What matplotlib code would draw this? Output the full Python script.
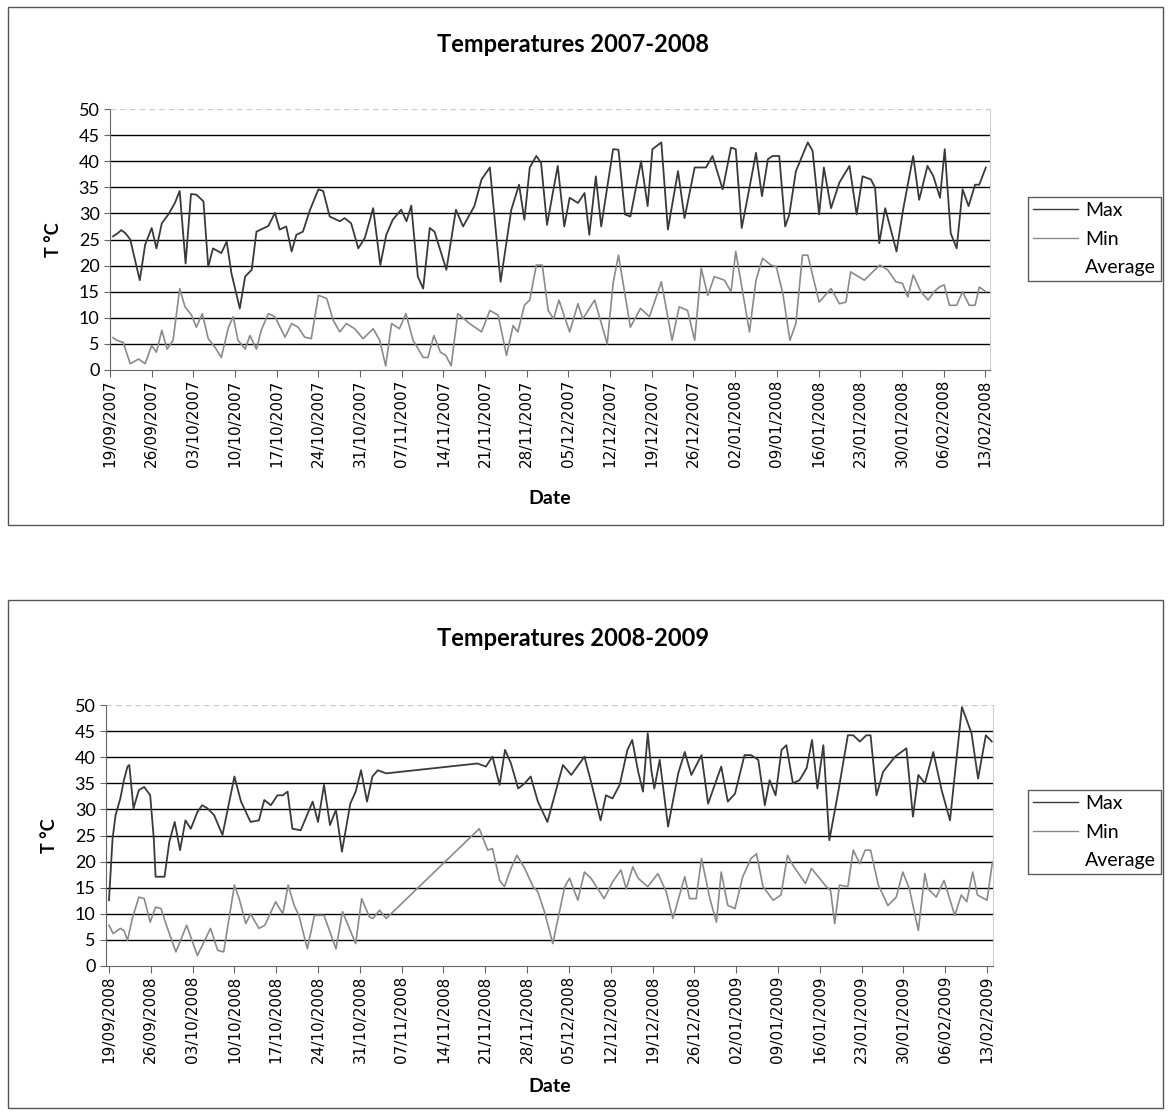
import matplotlib
matplotlib.use("Agg")
import matplotlib.pyplot as plt
from matplotlib.lines import Line2D
from matplotlib.patches import Rectangle

plt.rcParams['font.family'] = ['Lato', 'DejaVu Sans']

# ---- data (day offset from 19/09, value in deg C) ----
tick_labels_1 = ["19/09/2007", "26/09/2007", "03/10/2007", "10/10/2007", "17/10/2007",
                 "24/10/2007", "31/10/2007", "07/11/2007", "14/11/2007", "21/11/2007",
                 "28/11/2007", "05/12/2007", "12/12/2007", "19/12/2007", "26/12/2007",
                 "02/01/2008", "09/01/2008", "16/01/2008", "23/01/2008", "30/01/2008",
                 "06/02/2008", "13/02/2008"]
tick_labels_2 = ["19/09/2008", "26/09/2008", "03/10/2008", "10/10/2008", "17/10/2008",
                 "24/10/2008", "31/10/2008", "07/11/2008", "14/11/2008", "21/11/2008",
                 "28/11/2008", "05/12/2008", "12/12/2008", "19/12/2008", "26/12/2008",
                 "02/01/2009", "09/01/2009", "16/01/2009", "23/01/2009", "30/01/2009",
                 "06/02/2009", "13/02/2009"]

max1_days = [0.5, 1.3, 1.9, 2.6, 3.4, 5.0, 5.9, 7.0, 7.8, 8.7, 9.8, 10.9, 11.7, 12.7, 13.6,
             14.5, 15.7, 16.5, 17.3, 18.7, 19.6, 20.4, 21.8, 22.7, 23.8, 24.6, 26.6, 27.7,
             28.5, 29.6, 30.5, 31.3, 32.4, 33.6, 35.0, 35.8, 36.9, 38.6, 39.4, 40.5, 41.7,
             42.8, 44.2, 45.4, 46.4, 47.5, 48.9, 49.8, 50.6, 51.7, 52.6, 53.7, 54.5, 56.5,
             58.1, 59.3, 61.2, 62.4, 63.8, 65.6, 67.4, 68.7, 69.6, 70.5, 71.6, 72.4, 73.4,
             75.2, 76.3, 77.2, 78.6, 79.7, 80.5, 81.6, 82.5, 84.5, 85.4, 86.5, 87.4, 89.2,
             90.3, 91.1, 92.6, 93.7, 95.4, 96.5, 98.2, 100.1, 101.2, 102.9, 104.3, 105.1,
             106.1, 107.4, 108.5, 109.5, 110.5, 111.3, 112.4, 113.4, 114.1, 115.2, 117.2,
             118.0, 119.1, 119.9, 121.1, 122.5, 124.2, 125.4, 126.4, 127.8, 128.5, 129.2,
             130.2, 132.1, 133.2, 134.9, 135.9, 137.3, 138.3, 139.4, 140.2, 141.2, 142.2,
             143.2, 144.2, 145.3, 146.0, 147.1]
max1_vals = [25.6, 26.2, 26.8, 26.2, 25.0, 17.2, 24.0, 27.2, 23.3, 28.1, 29.8, 32.0, 34.3,
             20.4, 33.7, 33.6, 32.3, 19.8, 23.3, 22.4, 24.6, 18.5, 11.8, 17.9, 19.2, 26.5,
             27.6, 30.1, 26.9, 27.5, 22.7, 25.9, 26.5, 30.7, 34.6, 34.3, 29.4, 28.5, 29.1,
             28.1, 23.3, 25.3, 31.0, 20.1, 25.9, 28.8, 30.7, 28.5, 31.5, 17.9, 15.6, 27.2,
             26.5, 19.2, 30.7, 27.5, 31.4, 36.5, 38.8, 16.9, 30.7, 35.5, 28.8, 38.8, 41.0,
             39.7, 27.8, 39.1, 27.5, 33.0, 32.0, 33.9, 25.9, 37.1, 27.5, 42.3, 42.2, 29.8,
             29.4, 40.0, 31.4, 42.3, 43.6, 26.9, 38.1, 29.1, 38.8, 38.8, 41.0, 34.6, 42.6,
             42.3, 27.2, 34.9, 41.6, 33.3, 40.4, 41.0, 41.0, 27.5, 29.8, 38.1, 43.6, 42.0,
             29.8, 38.8, 31.0, 35.9, 39.1, 29.8, 37.1, 36.5, 34.9, 24.3, 31.0, 22.7, 30.7,
             41.0, 32.6, 39.1, 37.1, 33.0, 42.3, 26.2, 23.3, 34.6, 31.4, 35.5, 35.5, 38.8]

min1_days = [0.5, 1.1, 2.2, 3.4, 4.8, 5.9, 7.0, 7.8, 8.7, 9.6, 10.6, 11.7, 12.6, 13.7, 14.5,
             15.5, 16.5, 17.6, 18.7, 19.9, 20.7, 21.5, 22.7, 23.5, 24.6, 25.4, 26.6, 27.7,
             29.4, 30.5, 31.6, 32.7, 33.8, 35.0, 36.4, 37.5, 38.6, 39.7, 41.1, 42.5, 44.2,
             45.3, 46.3, 47.3, 48.6, 49.7, 50.9, 52.6, 53.4, 54.4, 55.5, 56.4, 57.3, 58.4,
             60.4, 62.4, 63.8, 65.2, 66.6, 67.7, 68.5, 69.6, 70.5, 71.6, 72.6, 73.6, 74.5,
             75.4, 77.2, 78.6, 79.4, 81.4, 83.5, 84.5, 85.4, 87.4, 89.1, 90.6, 92.6, 94.4,
             95.6, 97.0, 98.2, 99.3, 100.4, 101.5, 103.2, 104.3, 105.1, 107.4, 108.5, 109.6,
             111.0, 111.9, 113.0, 114.2, 115.2, 116.3, 117.2, 119.1, 121.1, 122.5, 123.6,
             124.4, 126.7, 128.1, 129.3, 130.6, 132.0, 133.1, 134.0, 134.9, 136.2, 137.4,
             138.4, 139.3, 140.1, 141.0, 142.2, 143.2, 144.3, 145.3, 146.0, 147.1]
min1_vals = [6.2, 5.7, 5.3, 1.2, 2.1, 1.2, 4.7, 3.4, 7.6, 4.0, 5.7, 15.6, 12.1, 10.5, 8.2,
             10.8, 6.0, 4.4, 2.4, 8.2, 10.2, 5.7, 4.0, 6.6, 4.0, 7.6, 10.8, 10.2, 6.3, 8.9,
             8.2, 6.3, 6.0, 14.3, 13.7, 9.5, 7.3, 8.9, 7.9, 6.0, 7.9, 5.7, 0.8, 8.9, 7.9,
             10.8, 5.7, 2.4, 2.4, 6.6, 3.4, 2.8, 0.8, 10.8, 8.9, 7.3, 11.4, 10.5, 2.8, 8.5,
             7.3, 12.4, 13.4, 20.1, 20.1, 11.4, 9.8, 13.4, 7.3, 12.7, 9.8, 13.4, 5.0, 16.6,
             22.0, 8.2, 11.8, 10.2, 16.9, 5.7, 12.1, 11.4, 5.7, 19.5, 14.3, 17.9, 17.2, 15.0,
             22.7, 7.3, 17.2, 21.4, 20.1, 19.8, 14.7, 5.7, 8.9, 22.0, 22.0, 13.0, 15.6, 12.7,
             13.0, 18.8, 17.2, 18.8, 20.1, 19.2, 16.9, 16.6, 14.0, 18.2, 15.0, 13.4, 15.0,
             15.9, 16.3, 12.4, 12.4, 15.0, 12.4, 12.4, 15.9, 15.0]

max2_days = [0.0, 0.6, 1.1, 1.9, 2.5, 3.1, 3.4, 4.1, 5.0, 5.9, 6.9, 7.5, 7.8, 9.3, 10.1,
             11.0, 11.9, 12.8, 13.7, 14.8, 15.6, 16.5, 17.6, 19.0, 21.0, 22.1, 23.7, 25.1,
             26.0, 27.1, 28.2, 29.1, 29.9, 30.7, 32.1, 34.1, 35.0, 36.0, 37.0, 38.0, 39.0,
             40.4, 41.3, 42.2, 43.2, 44.1, 45.0, 46.4, 61.7, 63.1, 64.2, 65.4, 66.3, 67.3,
             68.5, 69.6, 70.6, 71.8, 73.4, 76.0, 77.4, 79.6, 80.7, 82.3, 83.2, 84.3, 85.5,
             86.8, 87.6, 88.6, 89.4, 90.2, 90.8, 91.3, 92.2, 93.6, 95.3, 96.4, 97.5, 99.2,
             100.3, 102.5, 103.6, 104.8, 106.4, 107.5, 108.7, 109.8, 110.6, 111.6, 112.6,
             113.4, 114.5, 115.6, 116.8, 117.7, 118.6, 119.6, 120.6, 122.1, 123.7, 124.6,
             125.7, 126.8, 127.5, 128.5, 129.6, 131.6, 133.5, 134.6, 135.5, 136.6, 138.0,
             139.4, 140.8, 142.8, 144.4, 145.5, 146.8, 147.8]
max2_vals = [12.6, 24.4, 28.9, 32.1, 35.6, 38.2, 38.5, 30.2, 33.7, 34.3, 32.7, 24.4, 17.1,
             17.1, 23.8, 27.6, 22.2, 27.9, 26.3, 29.5, 30.8, 30.2, 28.9, 25.1, 36.3, 31.5,
             27.6, 27.9, 31.8, 30.8, 32.7, 32.7, 33.4, 26.3, 26.0, 31.5, 27.6, 34.7, 27.0,
             29.9, 21.9, 31.1, 33.4, 37.5, 31.5, 36.3, 37.5, 36.9, 38.8, 38.2, 40.1, 34.7,
             41.4, 38.8, 34.0, 35.0, 36.3, 31.5, 27.6, 38.5, 36.6, 40.1, 35.3, 27.9, 32.7,
             32.1, 34.7, 41.4, 43.3, 37.2, 33.4, 44.6, 37.5, 34.0, 39.5, 26.7, 36.9, 41.0,
             36.6, 40.4, 31.1, 38.2, 31.5, 33.0, 40.4, 40.4, 39.5, 30.8, 35.6, 32.7, 41.4,
             42.3, 35.0, 35.6, 37.9, 43.3, 34.0, 42.3, 24.1, 33.4, 44.2, 44.2, 43.0, 44.2,
             44.2, 32.7, 37.2, 40.1, 41.7, 28.6, 36.6, 35.0, 41.0, 33.7, 27.9, 49.6, 44.6,
             35.9, 44.2, 43.0]

min2_days = [0.0, 0.7, 1.9, 2.5, 3.1, 3.9, 5.0, 5.9, 6.9, 7.8, 8.7, 9.8, 11.2, 13.0, 14.8,
             17.0, 18.2, 19.2, 21.0, 21.8, 22.9, 23.7, 25.1, 26.1, 27.9, 29.1, 30.0, 31.0,
             31.8, 33.2, 34.4, 36.0, 38.0, 39.1, 41.3, 42.3, 43.6, 44.2, 45.3, 46.4, 62.0,
             63.4, 64.2, 65.4, 66.2, 67.3, 68.3, 69.6, 71.0, 71.8, 72.9, 74.3, 76.3, 77.1,
             78.5, 79.6, 80.7, 82.9, 84.3, 85.7, 86.6, 87.7, 88.6, 90.2, 91.9, 93.3, 94.4,
             96.4, 97.2, 98.3, 99.2, 100.6, 101.7, 102.5, 103.6, 104.8, 106.1, 107.5, 108.4,
             109.5, 111.2, 112.5, 113.6, 114.5, 116.6, 117.6, 120.1, 120.8, 121.5, 122.3,
             123.7, 124.6, 125.7, 126.6, 127.5, 128.8, 130.4, 131.8, 132.9, 134.0, 135.5,
             136.6, 137.1, 138.5, 139.8, 141.6, 142.7, 143.6, 144.6, 145.4, 147.0, 147.9]
min2_vals = [7.8, 6.2, 7.2, 6.8, 4.9, 9.1, 13.2, 12.9, 8.4, 11.3, 11.0, 7.2, 2.7, 7.8, 2.0,
             7.2, 3.0, 2.7, 15.5, 12.9, 8.1, 10.0, 7.2, 7.8, 12.3, 10.0, 15.5, 11.6, 9.7,
             3.3, 9.7, 9.7, 3.3, 10.4, 4.3, 12.9, 9.4, 9.1, 10.7, 9.1, 26.3, 22.2, 22.5,
             16.4, 15.2, 18.7, 21.2, 18.7, 15.2, 14.2, 10.4, 4.3, 15.2, 16.8, 12.6, 18.0,
             16.8, 12.9, 16.1, 18.4, 14.8, 19.0, 16.8, 15.2, 17.7, 14.2, 9.1, 17.1, 12.9,
             12.9, 20.6, 12.9, 8.4, 18.0, 11.6, 11.0, 17.1, 20.6, 21.5, 15.2, 12.6, 13.6,
             21.2, 19.3, 15.8, 18.7, 15.2, 14.5, 8.1, 15.5, 15.2, 22.2, 19.6, 22.2, 22.2,
             15.5, 11.6, 13.2, 18.0, 14.8, 6.8, 17.7, 14.8, 13.2, 16.4, 9.7, 13.6, 12.3,
             18.0, 13.6, 12.6, 19.9]

W, H = 1170, 1113
fig = plt.figure(figsize=(W / 100, H / 100), dpi=100)

MAX_C = '#3a3a3a'
MIN_C = '#8a8a8a'


def box(x0, y0, x1, y1):
    return [x0 / W, 1 - y1 / H, (x1 - x0) / W, (y1 - y0) / H]


def draw_chart(frame, axrect, title, title_y, tlabels, mx_d, mx_v, mn_d, mn_v,
               xlim, legrect, datey):
    fx0, fy0, fx1, fy1 = frame
    fig.patches.append(Rectangle((fx0 / W, 1 - fy1 / H), (fx1 - fx0) / W, (fy1 - fy0) / H,
                                 transform=fig.transFigure, fill=False,
                                 edgecolor='#555555', linewidth=1.0))
    fig.text(573 / W, 1 - title_y / H, title, ha='center', va='center',
             fontsize=17, fontweight='bold')
    ax = fig.add_axes(box(*axrect))
    ax.plot(mx_d, mx_v, color=MAX_C, linewidth=1.3)
    ax.plot(mn_d, mn_v, color=MIN_C, linewidth=1.2)
    ax.set_ylim(0, 50)
    ax.set_xlim(*xlim)
    ax.set_yticks(range(0, 55, 5))
    for yv in range(5, 50, 5):
        ax.axhline(yv, color='black', linewidth=1.0, zorder=0)
    ax.axhline(50, color='#cccccc', linewidth=1.0, linestyle=(0, (4, 3)), zorder=0)
    ax.set_xticks(range(0, 148, 7))
    ax.set_xticklabels(tlabels, rotation=90, fontsize=11, family=['DejaVu Sans'])
    ax.tick_params(axis='y', labelsize=13, length=4, color='#666666')
    ax.tick_params(axis='x', length=5, color='#666666', pad=2)
    ax.spines['top'].set_visible(False)
    ax.spines['right'].set_color('#cccccc')
    ax.spines['left'].set_color('#666666')
    ax.spines['bottom'].set_color('#666666')
    ax.set_ylabel('T °C', fontsize=13, fontweight='bold', labelpad=12)
    fig.text(550 / W, 1 - datey / H, 'Date', ha='center', va='center',
             fontsize=14, fontweight='bold')
    handles = [Line2D([], [], color=MAX_C, linewidth=1.0),
               Line2D([], [], color=MIN_C, linewidth=1.0),
               Line2D([], [], color='white', linewidth=1.0)]
    lx0, ly0, lx1, ly1 = legrect
    leg = fig.legend(handles, ['Max', 'Min', 'Average'], loc='upper left',
                     bbox_to_anchor=(lx0 / W, 1 - ly0 / H), fontsize=14,
                     frameon=True, fancybox=False, handlelength=2.3,
                     handletextpad=0.4, borderpad=0.25, labelspacing=0.6,
                     borderaxespad=0)
    leg.get_frame().set_edgecolor('#333333')
    leg.get_frame().set_linewidth(1.0)
    return ax


draw_chart((8, 7, 1163, 525), (110, 109, 990, 370), 'Temperatures 2007-2008', 45,
           tick_labels_1, max1_days, max1_vals, min1_days, min1_vals,
           (0, 147.8), (1028, 197, 1157, 287), 498)
draw_chart((8, 600, 1163, 1108), (106, 705, 993, 966), 'Temperatures 2008-2009', 638,
           tick_labels_2, max2_days, max2_vals, min2_days, min2_vals,
           (-0.5, 148), (1028, 790, 1157, 880), 1087)

fig.savefig('out.png', dpi=100)
